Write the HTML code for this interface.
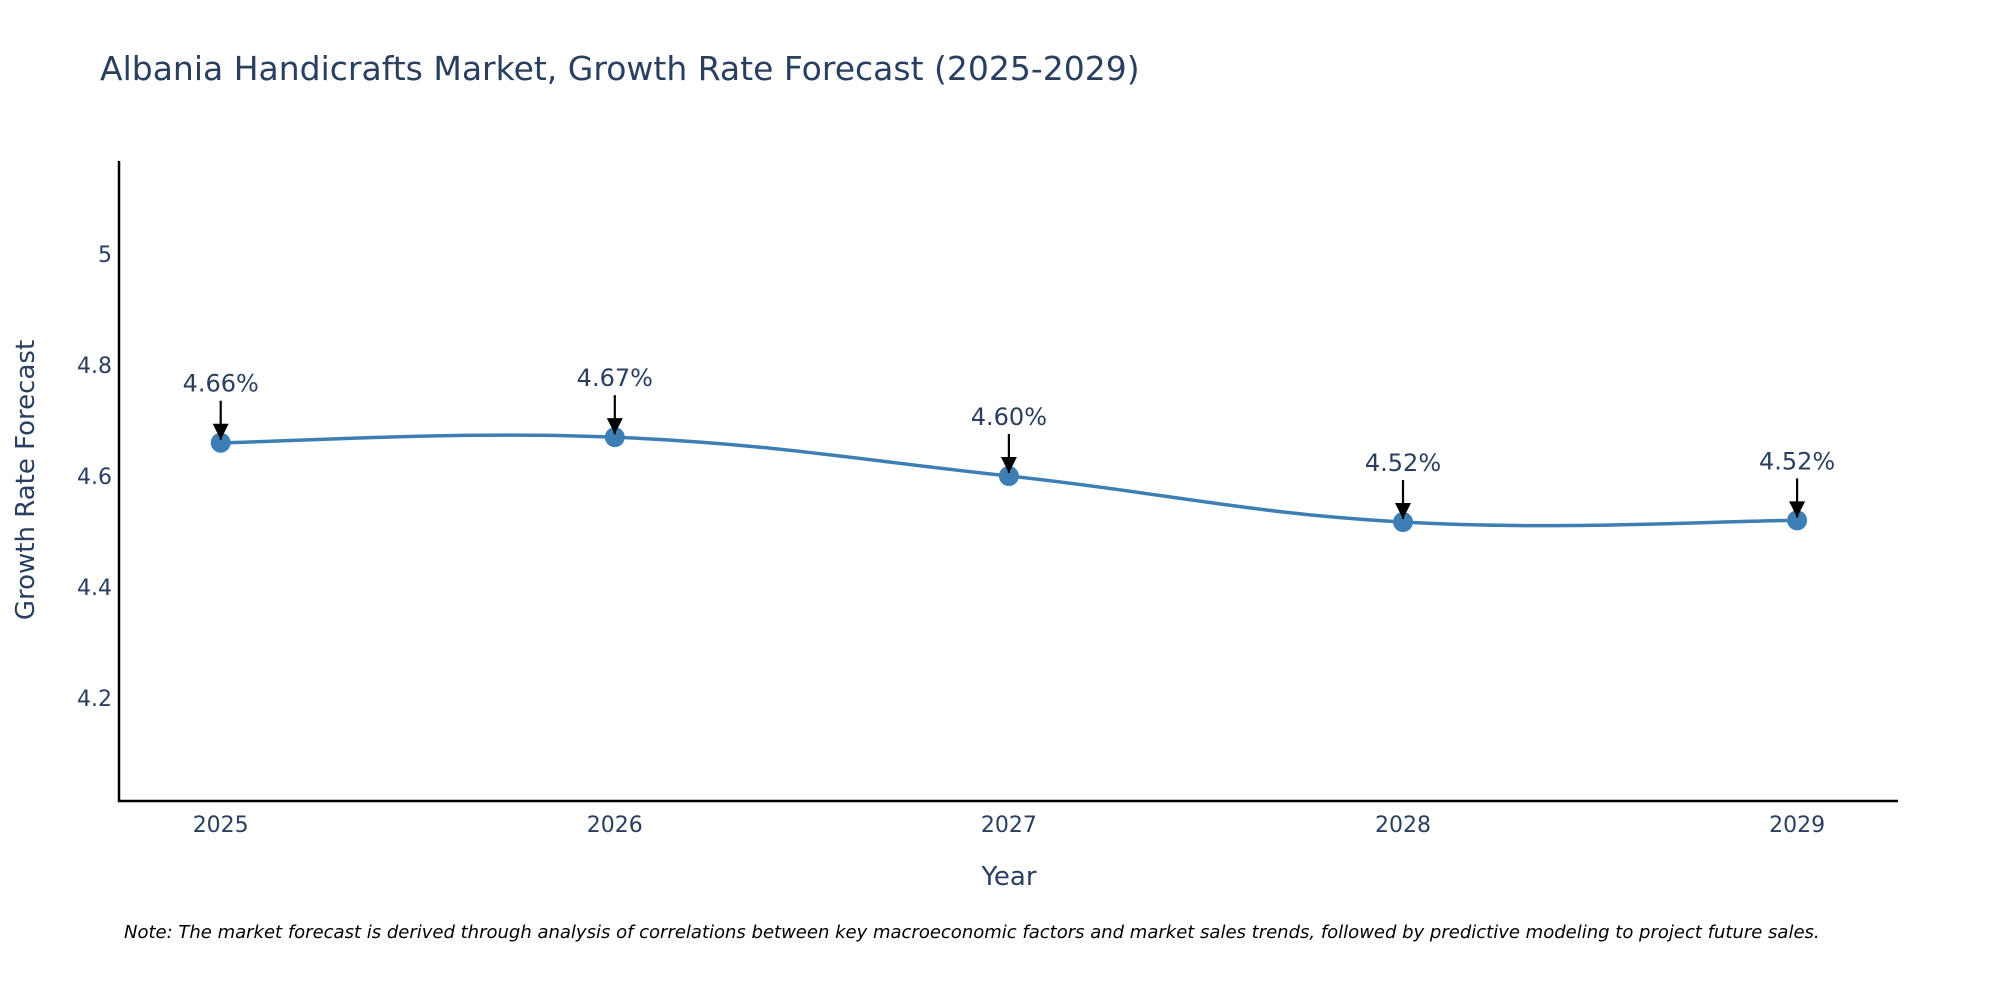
<!DOCTYPE html>
<html><head><meta charset="utf-8">
<style>
html,body{margin:0;padding:0;background:#fff;}
svg{display:block;font-family:"DejaVu Sans","Liberation Sans",sans-serif;}
</style></head>
<body>
<svg id="chart" width="2000" height="1000" viewBox="0 0 2000 1000">
<defs>
<marker id="ah" viewBox="0 0 10 10" refX="10" refY="5" markerWidth="6" markerHeight="6" markerUnits="userSpaceOnUse" orient="auto">
<path d="M0,0 L10,5 L0,10 z" fill="#000"/>
</marker>
</defs>
<text x="100" y="80" font-size="33" fill="#2a3f5f">Albania Handicrafts Market, Growth Rate Forecast (2025-2029)</text>
<g id="yticks"></g>
<g id="xticks"></g>
<line x1="119" y1="161" x2="119" y2="802" stroke="#000" stroke-width="2.5"/>
<line x1="118" y1="801" x2="1898" y2="801" stroke="#000" stroke-width="2.5"/>
<path id="line" fill="none" stroke="#3d7fb5" stroke-width="3.5"/>
<g id="points"></g>
<g id="annots"></g>
<text x="0" y="0" transform="translate(34,480) rotate(-90)" text-anchor="middle" font-size="26" fill="#2a3f5f">Growth Rate Forecast</text>
<text x="1009" y="885" text-anchor="middle" font-size="26" fill="#2a3f5f">Year</text>
<text x="124" y="938" font-size="18" font-style="italic" fill="#000">Note: The market forecast is derived through analysis of correlations between key macroeconomic factors and market sales trends, followed by predictive modeling to project future sales.</text>
</svg>
<script>
const years = ["2025","2026","2027","2028","2029"];
const values = [4.66, 4.67, 4.60, 4.517, 4.52];
const labels = ["4.66%","4.67%","4.60%","4.52%","4.52%"];
const yTicks = [4.2, 4.4, 4.6, 4.8, 5];
const yTickLabels = ["4.2","4.4","4.6","4.8","5"];

const NS = "http://www.w3.org/2000/svg";
const yMin = 4.014, yMax = 5.168, pTop = 161, pBot = 801;
function yS(v){ return pBot - (v - yMin) / (yMax - yMin) * (pBot - pTop); }
function xS(i){ return 220.7 + i * 394.1; }
function mk(tag, attrs, parent){ const e = document.createElementNS(NS, tag); for (const k in attrs) e.setAttribute(k, attrs[k]); parent.appendChild(e); return e; }

const yg = document.getElementById('yticks');
yTicks.forEach((t, i) => {
  const tx = mk('text', {x: 112, y: yS(t) + 8, 'text-anchor': 'end', 'font-size': 22, fill: '#2a3f5f'}, yg);
  
  
  tx.textContent = yTickLabels[i];
});
const xg = document.getElementById('xticks');
years.forEach((y, i) => {
  const tx = mk('text', {x: xS(i), y: 832, 'text-anchor': 'middle', 'font-size': 22, fill: '#2a3f5f'}, xg);
  
  
  tx.textContent = y;
});

const pts = values.map((v, i) => [xS(i), yS(v)]);
let d = `M${pts[0][0]},${pts[0][1]}`;
const s = 1/5;
for (let i = 0; i < pts.length - 1; i++) {
  const p0 = pts[Math.max(0, i-1)], p1 = pts[i], p2 = pts[i+1], p3 = pts[Math.min(pts.length-1, i+2)];
  const c1 = [p1[0] + (p2[0]-p0[0])*s, p1[1] + (p2[1]-p0[1])*s];
  const c2 = [p2[0] - (p3[0]-p1[0])*s, p2[1] - (p3[1]-p1[1])*s];
  d += ` C${c1[0]},${c1[1]} ${c2[0]},${c2[1]} ${p2[0]},${p2[1]}`;
}
document.getElementById('line').setAttribute('d', d);

const pg = document.getElementById('points');
const ag = document.getElementById('annots');
pts.forEach((p, i) => {
  const c = mk('circle', {cx: p[0], cy: p[1], r: 10, fill: '#3d7fb5'}, pg);
  
  
  const ln = mk('line', {x1: p[0], y1: p[1] - 42, x2: p[0], y2: p[1] - 3, stroke: '#000', 'stroke-width': 2.2}, ag);
  
  
  const hd = mk('path', {d: `M${p[0]-8},${p[1]-19} L${p[0]+8},${p[1]-19} L${p[0]},${p[1]-3} Z`, fill: '#000'}, ag);
  
  
  const t = mk('text', {x: p[0], y: p[1] - 51, 'text-anchor': 'middle', 'font-size': 24, fill: '#2a3f5f'}, ag);
  
  
  t.textContent = labels[i];
});
</script>
</body></html>
